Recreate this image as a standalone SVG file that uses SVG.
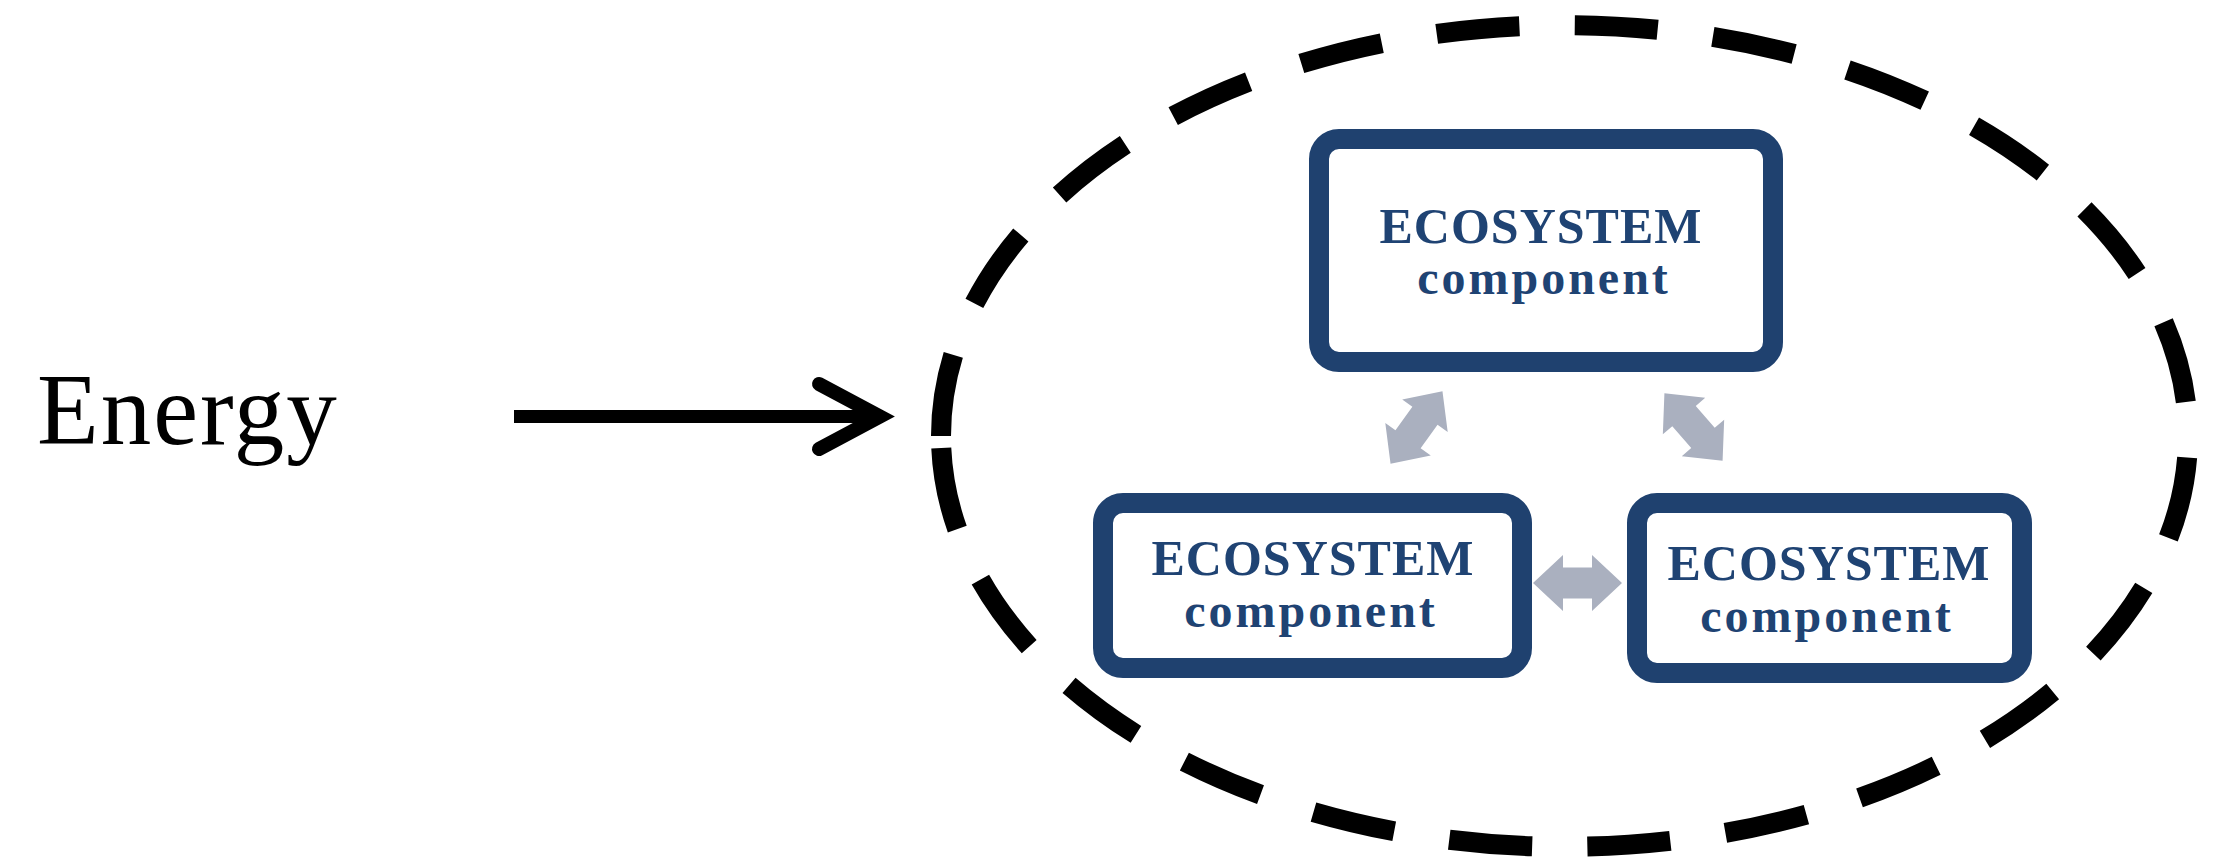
<svg xmlns="http://www.w3.org/2000/svg" xmlns:xlink="http://www.w3.org/1999/xlink" width="2227" height="868" viewBox="0 0 2227 868">
<style>
.box{fill:#FFFFFF;stroke:#1F416F;stroke-width:20}
.t1{font-family:"Liberation Serif","Times New Roman",serif;font-weight:bold;font-size:50px;fill:#1F4373;text-anchor:middle;letter-spacing:1px}
.t2{font-family:"Liberation Serif","Times New Roman",serif;font-weight:bold;font-size:48px;fill:#1F4373;text-anchor:middle;letter-spacing:3px}
.dbl{fill:#AAB0BF}
</style>
<defs>
<polygon id="darrow" points="-44.5,0 -14.5,-28 -14.5,-15.5 14.5,-15.5 14.5,-28 44.5,0 14.5,28 14.5,15.5 -14.5,15.5 -14.5,28"/>
</defs>
<rect width="2227" height="868" fill="#FFFFFF"/>
<g id="ecosystem-boundary">
<path d="M 941 436 A 623.5 411 0 0 0 2188 436 A 623.5 411 0 0 0 941 436 Z" fill="none" stroke="#000000" stroke-width="20" stroke-dasharray="83 55.65" stroke-dashoffset="126.65"/>
</g>
<g id="energy">
<text x="37" y="444" font-family="Liberation Serif, Times New Roman, serif" font-size="101" letter-spacing="2" fill="#000000">Energy</text>
</g>
<g id="node-top">
<rect class="box" x="1319" y="139" width="454" height="223" rx="20"/>
<text class="t1" x="1541" y="243">ECOSYSTEM</text>
<text class="t2" x="1544" y="294">component</text>
</g>
<g id="node-left">
<rect class="box" x="1103" y="503" width="419" height="165" rx="20"/>
<text class="t1" x="1313" y="575">ECOSYSTEM</text>
<text class="t2" x="1311" y="627">component</text>
</g>
<g id="node-right">
<rect class="box" x="1637" y="503" width="385" height="170" rx="20"/>
<text class="t1" x="1829" y="580">ECOSYSTEM</text>
<text class="t2" x="1827" y="632">component</text>
</g>
<g id="connectors">
<line x1="514" y1="416.5" x2="876" y2="416.5" stroke="#000000" stroke-width="13"/>
<polyline points="819,384 880,416.5 819,449" fill="none" stroke="#000000" stroke-width="14" stroke-linecap="round" stroke-linejoin="miter"/>
<use xlink:href="#darrow" class="dbl" transform="translate(1577.5 583)"/>
<use xlink:href="#darrow" class="dbl" transform="translate(1416.5 427.5) rotate(-54.3)"/>
<use xlink:href="#darrow" class="dbl" transform="translate(1693.5 427) rotate(49.2)"/>
</g>
</svg>
